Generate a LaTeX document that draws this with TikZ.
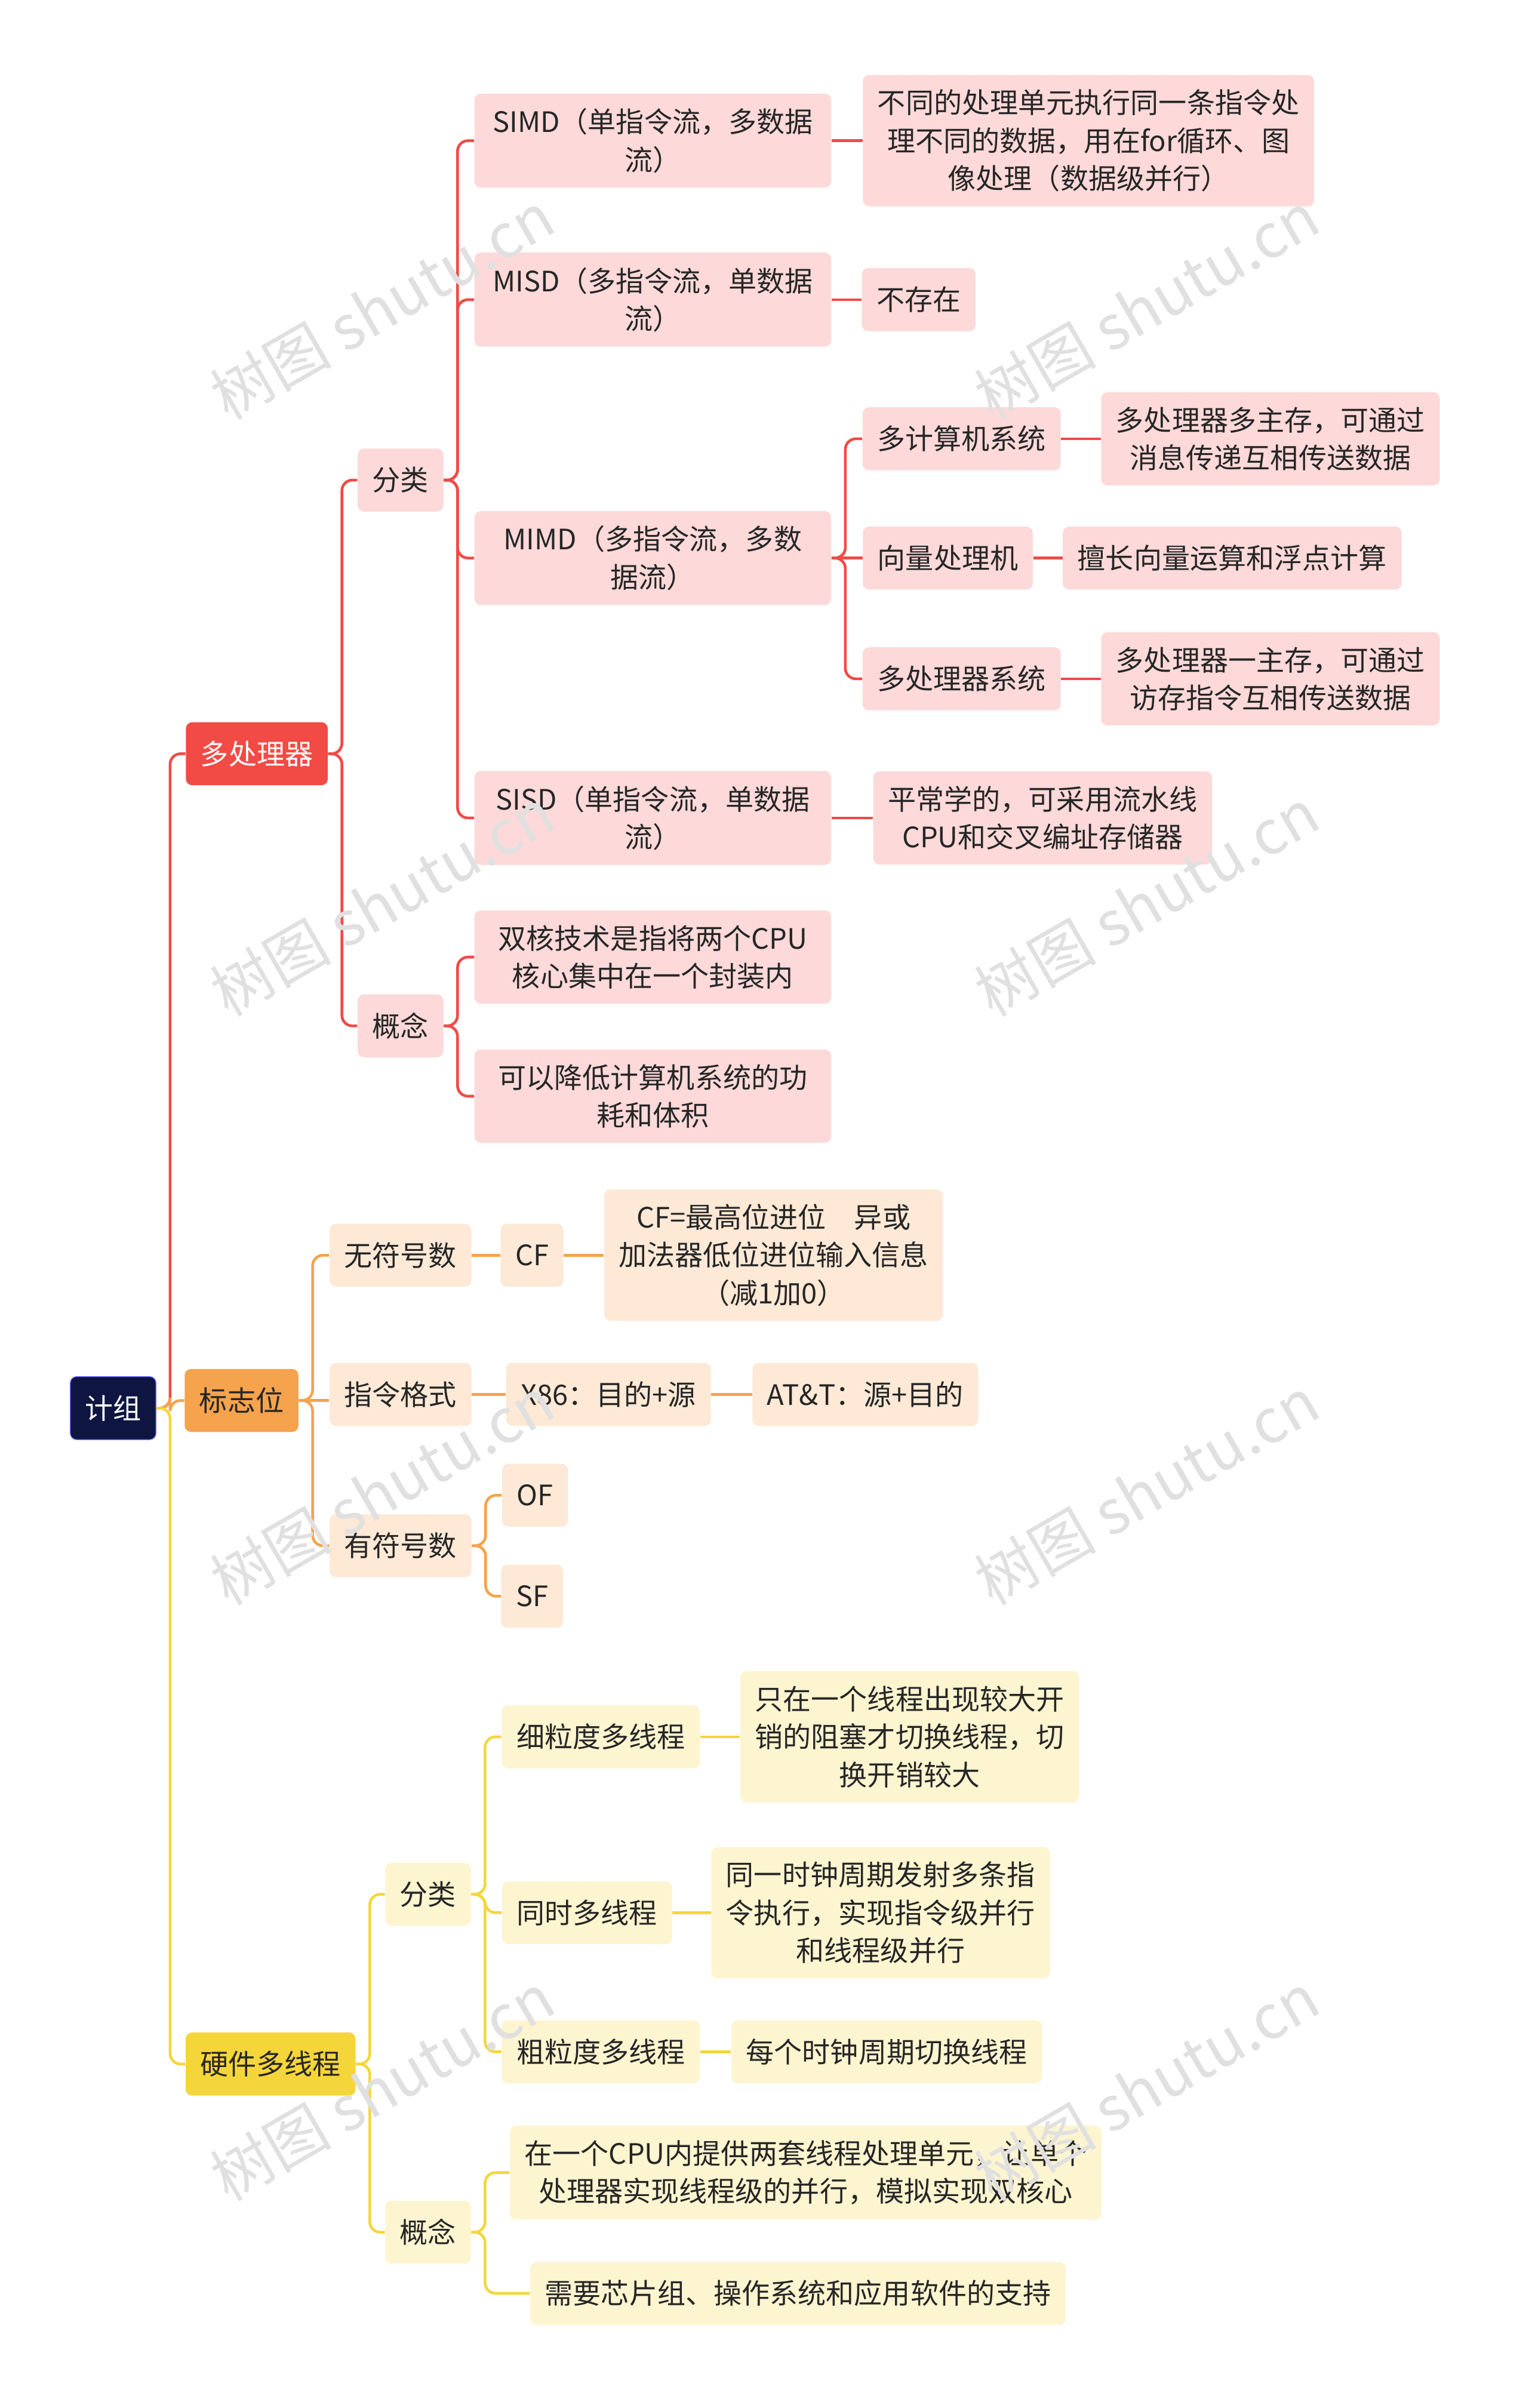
\documentclass[tikz,border=0pt]{standalone}
\usepackage{fontspec}
\setmainfont{Noto Sans CJK SC}
\usetikzlibrary{positioning}
\definecolor{rootc}{HTML}{0D1540}
\definecolor{redc}{HTML}{F24A45}
\definecolor{redl}{HTML}{FDD9D9}
\definecolor{orac}{HTML}{F5A34C}
\definecolor{oral}{HTML}{FDE9D6}
\definecolor{yelc}{HTML}{F5D63A}
\definecolor{yell}{HTML}{FDF5D0}
\tikzset{
  box/.style={rounded corners=3pt, align=center, font=\fontsize{13.4}{18}\selectfont,
              inner xsep=7pt, inner ysep=7pt, minimum height=30pt},
  rbox/.style={box, fill=redl, text=black!85},
  obox/.style={box, fill=oral, text=black!85},
  ybox/.style={box, fill=yell, text=black!85},
  link/.style={line width=1.3pt, rounded corners=5pt},
  wmark/.style={font=\fontsize{29}{30}\selectfont, text=black!12, rotate=30}
}
\begin{document}
\begin{tikzpicture}[x=0.0256cm,y=-0.0256cm]
  \useasboundingbox[fill=white] (0,0) rectangle (1000,1575);
  % root and main branches
  \node[box, fill=rootc, draw=blue!60, text=white] (root) at (74,921) {计组};
  \node[box, fill=redc, text=white] (mp) at (168,493) {多处理器};
  \node[box, fill=orac, text=black!85] (flag) at (158,916) {标志位};
  \node[box, fill=yelc, text=black!85] (hw) at (177,1350) {硬件多线程};
  % multiprocessor
  \node[rbox] (mpcls) at (262,314) {分类};
  \node[rbox] (mpcon) at (262,671) {概念};
  \node[rbox, minimum width=170pt] (simd) at (427,92) {SIMD（单指令流，多数据\\流）};
  \node[rbox, minimum width=170pt] (misd) at (427,196) {MISD（多指令流，单数据\\流）};
  \node[rbox, minimum width=170pt] (mimd) at (427,365) {MIMD（多指令流，多数\\据流）};
  \node[rbox, minimum width=170pt] (sisd) at (427,535) {SISD（单指令流，单数据\\流）};
  \node[rbox] (simdt) at (712,92) {不同的处理单元执行同一条指令处\\理不同的数据，用在for循环、图\\像处理（数据级并行）};
  \node[rbox] (misdt) at (601,196) {不存在};
  \node[rbox] (mcs) at (629,287) {多计算机系统};
  \node[rbox] (vec) at (620,365) {向量处理机};
  \node[rbox] (mps) at (629,444) {多处理器系统};
  \node[rbox] (mcst) at (831,287) {多处理器多主存，可通过\\消息传递互相传送数据};
  \node[rbox] (vect) at (806,365) {擅长向量运算和浮点计算};
  \node[rbox] (mpst) at (831,444) {多处理器一主存，可通过\\访存指令互相传送数据};
  \node[rbox] (sisdt) at (682,535) {平常学的，可采用流水线\\CPU和交叉编址存储器};
  \node[rbox, minimum width=170pt] (dual) at (427,626) {双核技术是指将两个CPU\\核心集中在一个封装内};
  \node[rbox, minimum width=170pt] (power) at (427,717) {可以降低计算机系统的功\\耗和体积};
  % flags
  \node[obox] (unsig) at (262,821) {无符号数};
  \node[obox] (fmt) at (262,912) {指令格式};
  \node[obox] (sig) at (262,1011) {有符号数};
  \node[obox] (cf) at (348,821) {CF};
  \node[obox] (cft) at (506,821) {CF=最高位进位\quad 异或\\加法器低位进位输入信息\\（减1加0）};
  \node[obox] (x86) at (398,912) {X86：目的+源};
  \node[obox] (att) at (566,912) {AT\&T：源+目的};
  \node[obox] (of) at (350,978) {OF};
  \node[obox] (sf) at (348,1044) {SF};
  % hardware multithreading
  \node[ybox] (hwcls) at (280,1239) {分类};
  \node[ybox] (hwcon) at (280,1460) {概念};
  \node[ybox] (fine) at (393,1136) {细粒度多线程};
  \node[ybox] (smt) at (384,1251) {同时多线程};
  \node[ybox] (coarse) at (393,1342) {粗粒度多线程};
  \node[ybox] (finet) at (595,1136) {只在一个线程出现较大开\\销的阻塞才切换线程，切\\换开销较大};
  \node[ybox] (smtt) at (576,1251) {同一时钟周期发射多条指\\令执行，实现指令级并行\\和线程级并行};
  \node[ybox] (coarset) at (580,1342) {每个时钟周期切换线程};
  \node[ybox] (cpu) at (527,1421) {在一个CPU内提供两套线程处理单元，让单个\\处理器实现线程级的并行，模拟实现双核心};
  \node[ybox] (chip) at (522,1500) {需要芯片组、操作系统和应用软件的支持};
  % forks
  \foreach \p/\c in {root/mp, mp/mpcls, mp/mpcon, mpcls/simd, mpcls/misd, mpcls/mimd, mpcls/sisd,
                     mimd/mcs, mimd/mps, mpcon/dual, mpcon/power}
    \draw[link, redc] (\p.east) -- ++(9,0) |- (\c.west);
  \foreach \p/\c in {root/flag, flag/unsig, flag/sig, sig/of, sig/sf}
    \draw[link, orac] (\p.east) -- ++(9,0) |- (\c.west);
  \foreach \p/\c in {root/hw, hw/hwcls, hw/hwcon, hwcls/fine, hwcls/smt, hwcls/coarse,
                     hwcon/cpu, hwcon/chip}
    \draw[link, yelc] (\p.east) -- ++(9,0) |- (\c.west);
  % straight links
  \foreach \p/\c in {simd/simdt, misd/misdt, mimd/vec, mcs/mcst, vec/vect, mps/mpst, sisd/sisdt}
    \draw[link, redc] (\p.east) -- (\c.west);
  \foreach \p/\c in {flag/fmt, unsig/cf, cf/cft, fmt/x86, x86/att}
    \draw[link, orac] (\p.east) -- (\p.east -| \c.west);
  \foreach \p/\c in {fine/finet, smt/smtt, coarse/coarset}
    \draw[link, yelc] (\p.east) -- (\c.west);
  % watermark
  \foreach \wx in {250,750}
    \foreach \wy in {200,590,975,1365}
      \node[wmark] at (\wx,\wy) {树图 shutu.cn};
\end{tikzpicture}
\end{document}
